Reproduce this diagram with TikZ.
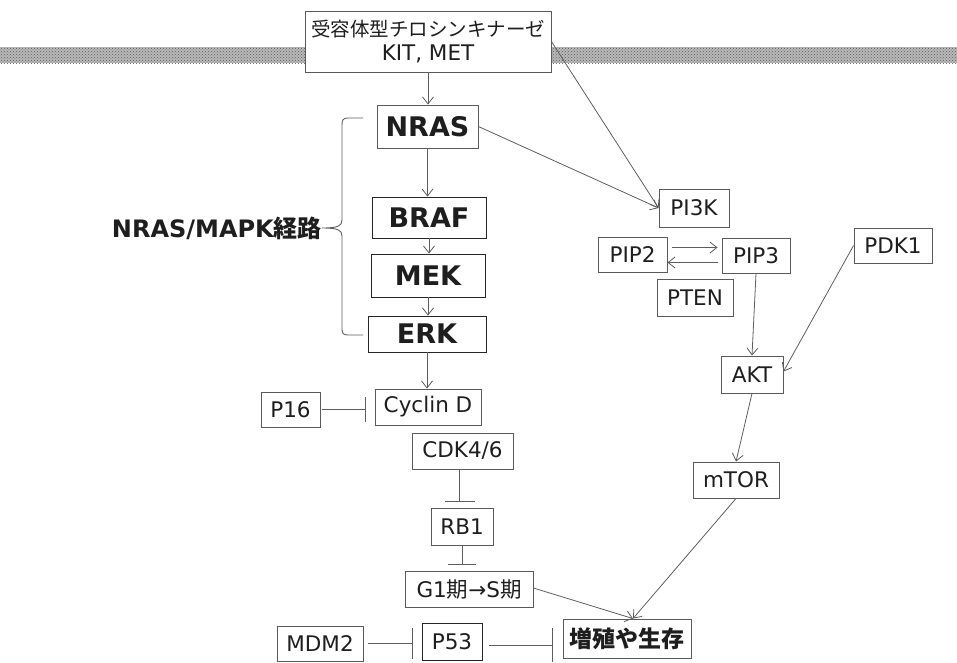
\documentclass[tikz,border=0pt]{standalone}
\usepackage{fontspec}
\setmainfont{DejaVu Sans}
\newfontfamily\cjk{Noto Sans CJK JP}
\usetikzlibrary{arrows.meta,patterns}
\definecolor{boxc}{HTML}{5A5A5A}
\definecolor{linec}{HTML}{5E5E5E}
\definecolor{txt}{HTML}{1E1E1E}
\begin{document}
\begin{tikzpicture}[x=1pt,y=-1pt,
  box/.style={draw=boxc, line width=0.9pt, fill=white, inner sep=0pt, text=txt,
    font=\fontsize{21.5}{25}\selectfont, align=center},
  bbox/.style={box, draw=black!85, font=\fontsize{27}{31}\selectfont\bfseries},
  arr/.style={draw=linec, line width=0.8pt, -{Straight Barb[length=7pt,width=11pt]}},
  inh/.style={draw=linec, line width=0.9pt, -{Bar[width=#1]}},
  inh/.default=28pt,
  lbl/.style={inner sep=0pt, text=txt}
]
\useasboundingbox (0,0) rectangle (957,662);
% membrane
\fill[gray!55] (0,47) rectangle (957,63);
\fill[pattern=crosshatch dots, pattern color=gray!70!black] (0,47) rectangle (957,63);

% nodes
\node[box, minimum width=246pt, minimum height=61pt] (rtk) at (428,41.5)
  {{\cjk\fontsize{19.5}{27}\selectfont 受容体型チロシンキナーゼ}\\[-1pt]KIT, MET};
\node[box, font=\fontsize{27}{31}\selectfont\bfseries, minimum width=101pt, minimum height=43pt] (nras) at (427.5,126.5) {NRAS};
\node[bbox, minimum width=114pt, minimum height=41pt] (braf) at (429,217.5) {BRAF};
\node[bbox, minimum width=114pt, minimum height=43pt] (mek) at (428,275.5) {MEK};
\node[bbox, minimum width=118pt, minimum height=36pt] (erk) at (427,334) {ERK};
\node[box, minimum width=106pt, minimum height=36pt] (cyclin) at (428,407) {Cyclin D};
\node[box, minimum width=59pt, minimum height=35pt] (p16) at (290.5,409.5) {P16};
\node[box, minimum width=101pt, minimum height=36pt] (cdk) at (462.5,451) {CDK4/6};
\node[box, minimum width=62pt, minimum height=37pt] (rb1) at (462,526.5) {RB1};
\node[box, minimum width=128pt, minimum height=36pt] (g1) at (469,589) {G1{\cjk 期}→S{\cjk 期}};
\node[box, minimum width=86pt, minimum height=35pt] (mdm2) at (320,643.5) {MDM2};
\node[box, draw=black!85, minimum width=60pt, minimum height=37pt] (p53) at (452,642) {P53};
\node[box, minimum width=128pt, minimum height=39pt] (prolif) at (627,638.5)
  {\cjk\fontsize{23}{27}\selectfont\bfseries 増殖や生存};
\node[box, minimum width=70pt, minimum height=38pt] (pi3k) at (694,208) {PI3K};
\node[box, minimum width=69pt, minimum height=35pt] (pip2) at (632.5,254.5) {PIP2};
\node[box, minimum width=68pt, minimum height=35pt] (pip3) at (756,255.5) {PIP3};
\node[box, minimum width=76pt, minimum height=37pt] (pten) at (695,297.5) {PTEN};
\node[box, minimum width=78pt, minimum height=35pt] (pdk1) at (893,245.5) {PDK1};
\node[box, minimum width=62pt, minimum height=37pt] (akt) at (752,374.5) {AKT};
\node[box, minimum width=86pt, minimum height=36pt] (mtor) at (736,480) {mTOR};

% brace and label
\node[lbl, anchor=east, font=\fontsize{24}{28}\selectfont\bfseries] (mapk) at (322,228)
  {NRAS/MAPK{\cjk\bfseries 経路}};
\draw[linec, line width=0.9pt] (363,118) -- (348,118) .. controls (343,118) and (342,120) .. (342,125)
  -- (342,220) .. controls (342,226) and (338,228) .. (mapk.east)
  .. controls (338,228) and (342,230) .. (342,236)
  -- (342,329) .. controls (342,333) and (343,335) .. (348,335) -- (363,335);

% arrows (MAPK)
\draw[arr] (rtk.south) -- (rtk.south |- nras.north);
\draw[arr] (nras.south) -- (nras.south |- braf.north);
\draw[arr] (braf.south) -- (braf.south |- mek.north);
\draw[arr] (mek.south) -- (mek.south |- erk.north);
\draw[arr] (erk.south) -- (erk.south |- cyclin.north);

% PI3K branch
\draw[arr] (rtk.east) -- (pi3k.west);
\draw[arr] (nras.east) -- (pi3k.west);
\draw[arr] ([shift={(5pt,7pt)}]pip2.east) -- ([shift={(-4pt,7pt)}]pip2.east -| pip3.west);
\draw[arr] ([shift={(-4pt,-8pt)}]pip2.east -| pip3.west) -- ([shift={(0pt,-8pt)}]pip2.east);
\draw[arr] (pip3.south) -- (akt.north);
\draw[arr] (pdk1.west) -- ([yshift=3pt]akt.east);
\draw[arr] (akt.south) -- (mtor.north);
\coordinate (pin) at ([xshift=6pt]prolif.north);
\draw[arr] (mtor.south) -- (pin);
\draw[arr] ([yshift=1pt]g1.east) -- (pin);

% inhibitions
\draw[inh=25pt, shorten <=2pt, shorten >=9pt] (p16.east) -- (p16.east -| cyclin.west);
\draw[inh=30pt, shorten >=6pt] ([xshift=-3pt]cdk.south) -- ([xshift=-3pt]cdk.south |- rb1.north);
\draw[inh=28pt, shorten >=6pt] (rb1.south) -- (rb1.south |- g1.north);
\draw[inh=31pt, shorten <=5pt, shorten >=9pt] (mdm2.east) -- (mdm2.east -| p53.west);
\draw[inh=34pt, shorten <=7pt, shorten >=10pt] ([yshift=-3pt]p53.east) -- ([yshift=-3pt]p53.east -| prolif.west);
\end{tikzpicture}
\end{document}
